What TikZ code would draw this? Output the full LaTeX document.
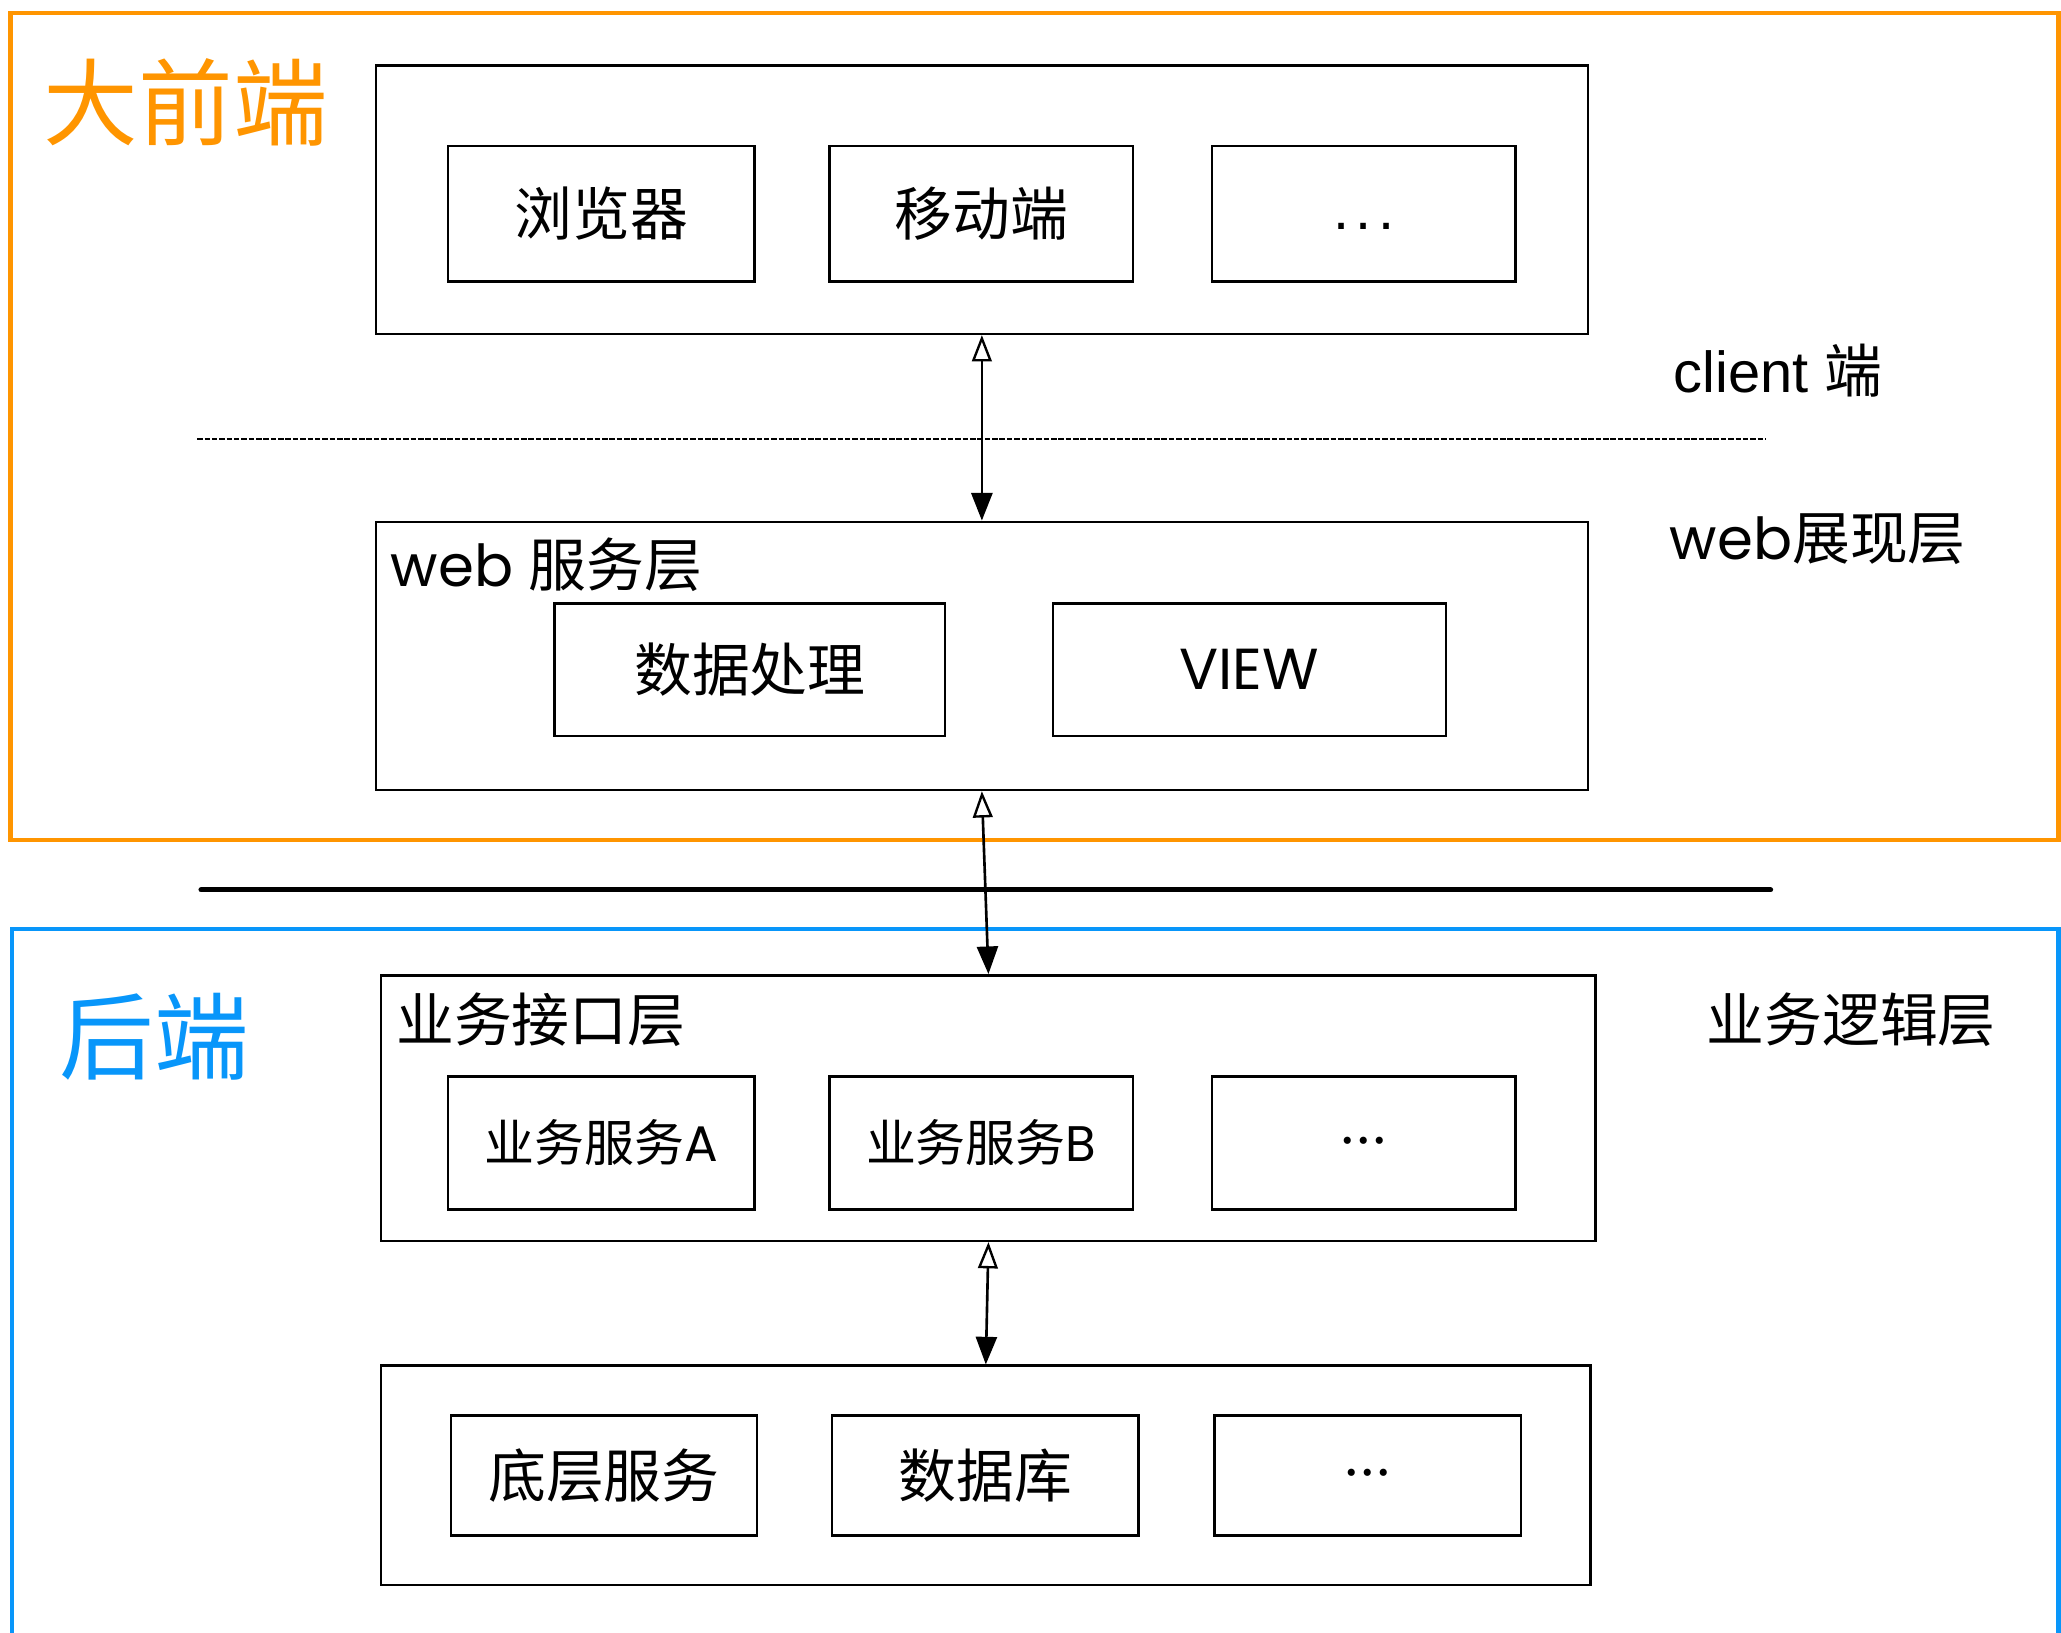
\documentclass[tikz,border=0pt]{standalone}
\usepackage{fontspec}
\setmainfont{Poppins}
\newfontfamily\cjk{Noto Sans CJK SC}
\newfontfamily\hel{Liberation Sans}
\usetikzlibrary{arrows.meta}
\definecolor{feorange}{RGB}{255,149,0}
\definecolor{beblue}{RGB}{8,150,250}
\newcommand{\fsz}[1]{\fontsize{#1}{#1}\selectfont}
\newcommand{\mdots}{\rule{0pt}{13.2pt}·\hspace{1.3pt}·\hspace{1.3pt}·}
\newcommand{\bdots}{\vphantom{x}{\hel .\hspace{2.4pt}.\hspace{2.4pt}.}}
\tikzset{
  corners/.style args={#1/#2/#3/#4}{
    minimum width={(#3-#1)*0.5pt}, minimum height={(#4-#2)*0.5pt},
    at={({(#1+#3)/2},{(#2+#4)/2})}},
  box/.style={draw, line width=0.95pt, inner sep=0pt, align=center},
  boxtxt/.style={font=\cjk\fsz{22}},
  smalltxt/.style={font=\cjk\fsz{19}},
  lbl/.style={inner sep=0pt, anchor=west, font=\cjk\fsz{22}},
  bigttl/.style={inner sep=0pt, anchor=west, font=\cjk\fsz{36}},
  biarrow/.style={line width=1pt, {Triangle[open, length=10pt, width=7.5pt, line width=0.9pt]}-{Triangle[length=10.5pt, width=8pt]}},
  region/.style={line width=1.6pt},
  dashline/.style={line width=0.9pt, dash pattern=on 2.1pt off 0.7pt},
  divider/.style={line width=2pt, line cap=round}
}
\begin{document}
\begin{tikzpicture}[x=0.5pt, y=-0.5pt]
\useasboundingbox (0,0) rectangle (1568,1242);
% regions
\draw[region, draw=feorange] (8,10) rectangle (1566,639);
\draw[region, draw=beblue] (9,1242) -- (9,707) -- (1566,707) -- (1566,1242);
\node[bigttl, text=feorange] (dqd) at (33,78) {大前端};
\node[bigttl, text=beblue] (hd) at (45,789) {后端};

% client layer
\node[box, corners=286/50/1208/254] (client) {};
\node[box, boxtxt, corners=341/111/574/214] (browser) {浏览器};
\node[box, boxtxt, corners=631/111/862/214] (mobile) {移动端};
\node[box, font=\fsz{22}, corners=922/111/1153/214] (cmore) {\bdots};
\node[lbl, font=\fsz{22}] (clientlbl) at (1273,282) {{\hel client} {\cjk 端}};

\coordinate (dashL) at (150,334);
\coordinate (dashR) at (1343,334);
\draw[dashline] (dashL) -- (dashR);

% web layer
\node[box, corners=286/397/1208/601] (web) {};
\node[lbl, font=\fsz{22}] (webttl) at (297,430) {web {\cjk 服务层}};
\node[box, boxtxt, corners=422/459/719/560] (data) {数据处理};
\node[box, font=\fsz{22}, corners=801/459/1100/560] (view) {VIEW};
\node[lbl, font=\fsz{22}] (weblbl) at (1270,410) {web{\cjk 展现层}};

\draw[biarrow] (client.south) -- (web.north);

% divider
\coordinate (divL) at (153,677);
\coordinate (divR) at (1347,677);
\draw[divider] (divL) -- (divR);

% business interface layer
\node[box, corners=290/742/1214/944] (api) {};
\node[lbl] (apittl) at (301,776) {业务接口层};
\node[box, smalltxt, corners=341/819/574/920] (svcA) {业务服务{\rmfamily A}};
\node[box, smalltxt, corners=631/819/862/920] (svcB) {业务服务{\rmfamily B}};
\node[box, font=\fsz{22}, corners=922/819/1153/920] (amore) {\mdots};
\node[lbl] (bizlbl) at (1298,776) {业务逻辑层};

\draw[biarrow] (web.south) -- (api.north);

% bottom layer
\node[box, corners=290/1039/1210/1206] (base) {};
\node[box, boxtxt, corners=343/1077/576/1168] (lower) {底层服务};
\node[box, boxtxt, corners=633/1077/866/1168] (db) {数据库};
\node[box, font=\fsz{22}, corners=924/1077/1157/1168] (bmore) {\mdots};

\draw[biarrow] (api.south) -- (base.north);
\end{tikzpicture}
\end{document}
